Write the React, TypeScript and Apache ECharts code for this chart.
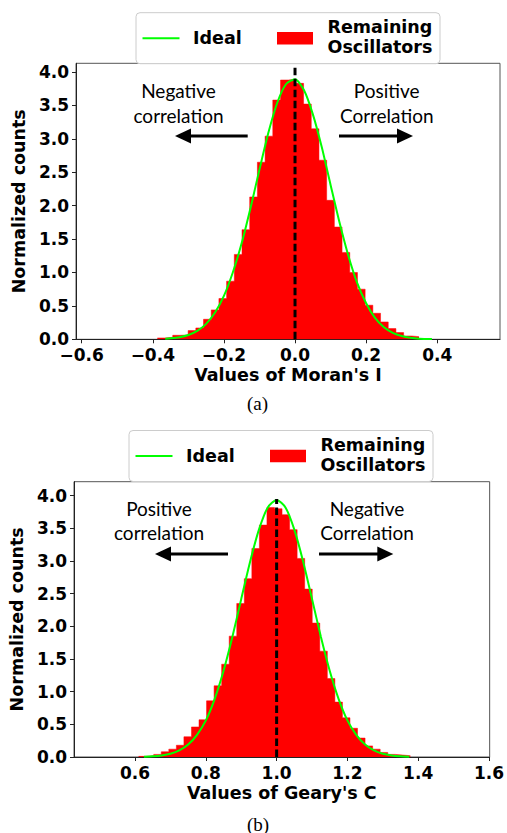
import React, { useEffect, useRef } from "react";
import * as echarts from "echarts";

// ---------- data ----------
const moranBinStart = -0.3872;
const moranBinWidth = 0.021645;
const moranCounts = [
  0.02, 0.03, 0.06, 0.065, 0.13, 0.17, 0.3, 0.44, 0.61, 0.87, 1.27, 1.64,
  2.13, 2.65, 3.04, 3.58, 3.88, 3.89, 3.83, 3.52, 3.15, 2.68, 2.08, 1.68,
  1.3, 1.0, 0.75, 0.51, 0.39, 0.26, 0.16, 0.1, 0.05, 0.04,
];
const moranIdealX = [
  -0.365, -0.35, -0.325, -0.3, -0.275, -0.25, -0.225, -0.2, -0.175, -0.15,
  -0.125, -0.1, -0.075, -0.05, -0.025, 0, 0.025, 0.05, 0.075, 0.1, 0.125,
  0.15, 0.175, 0.2, 0.225, 0.25, 0.275, 0.3, 0.325, 0.35, 0.385,
];
const moranIdealY = [
  0.009, 0.014, 0.031, 0.064, 0.125, 0.23, 0.4, 0.65, 1.0, 1.44, 1.97, 2.54,
  3.09, 3.54, 3.82, 3.89, 3.73, 3.37, 2.88, 2.31, 1.75, 1.25, 0.84, 0.54,
  0.32, 0.18, 0.097, 0.049, 0.023, 0.01, 0.003,
];
const moranRefX = 0;
const moranRefTop = 4.1;

const gearyBinStart = 0.61;
const gearyBinWidth = 0.02133;
const gearyCounts = [
  0.01, 0.02, 0.04, 0.08, 0.12, 0.18, 0.31, 0.46, 0.57, 0.86, 1.09, 1.42,
  1.85, 2.35, 2.73, 3.19, 3.55, 3.82, 3.8, 3.71, 3.48, 3.04, 2.57, 2.05,
  1.62, 1.2, 0.84, 0.6, 0.44, 0.29, 0.17, 0.12, 0.07, 0.04, 0.03, 0.02,
];
const gearyIdealX = [
  0.625, 0.65, 0.675, 0.7, 0.725, 0.75, 0.775, 0.8, 0.825, 0.85, 0.875, 0.9,
  0.925, 0.95, 0.975, 1.0, 1.025, 1.05, 1.075, 1.1, 1.125, 1.15, 1.175, 1.2,
  1.225, 1.25, 1.275, 1.3, 1.325, 1.35, 1.375,
];
const gearyIdealY = [
  0.004, 0.01, 0.023, 0.049, 0.1, 0.19, 0.34, 0.56, 0.89, 1.32, 1.84, 2.42,
  2.99, 3.48, 3.82, 3.935, 3.82, 3.48, 2.99, 2.42, 1.84, 1.32, 0.89, 0.56,
  0.34, 0.19, 0.1, 0.049, 0.023, 0.01, 0.004,
];
const gearyRefX = 1.0;
const gearyRefTop = 3.95;

const moranTicks = [-0.6, -0.4, -0.2, 0, 0.2, 0.4];
const gearyTicks = [0.6, 0.8, 1.0, 1.2, 1.4, 1.6];
const countTicks = [0, 0.5, 1, 1.5, 2, 2.5, 3, 3.5, 4];

const legendIdeal = "Ideal";
const legendHist = "Remaining\nOscillators";

// ---------- helpers ----------
const FONT = '"DejaVu Sans", sans-serif';
const ANNOT_FONT = 'Lato, "Open Sans", sans-serif';
const SERIF = '"Liberation Serif", "DejaVu Serif", serif';
const fmt = (v: number) => {
  if (Math.abs(v) < 1e-9) return "0.0";
  return v.toFixed(1).replace("-", "\u2212");
};

// step outline of the histogram: left edge of each bin + closing right edge
const stepData = (start: number, w: number, counts: number[]) => {
  const pts = counts.map((h, i) => [start + i * w, h]);
  pts.push([start + counts.length * w, counts[counts.length - 1]]);
  return pts;
};

const histSeries = (idx: number, name: string, start: number, w: number, counts: number[]) => ({
  type: "line",
  name,
  xAxisIndex: idx,
  yAxisIndex: idx,
  step: "end",
  data: stepData(start, w, counts),
  showSymbol: false,
  lineStyle: { color: "#ff0000", width: 0.5 },
  areaStyle: { color: "#ff0000", opacity: 1, origin: "start" },
  z: 2,
  silent: true,
});

const xAxisCfg = (
  grid: number,
  min: number,
  max: number,
  ticks: number[],
  name: string
) => ({
  type: "value",
  gridIndex: grid,
  min,
  max,
  splitLine: { show: false },
  axisLine: { show: true, onZero: false, lineStyle: { color: "#222", width: 1 } },
  axisTick: {
    show: true,
    inside: false,
    length: 4,
    customValues: ticks,
    lineStyle: { color: "#222", width: 1 },
  },
  axisLabel: {
    customValues: ticks,
    formatter: (v: number) => fmt(v),
    fontFamily: FONT,
    fontWeight: "bold",
    fontSize: 17,
    color: "#000",
    margin: 7,
  },
  name,
  nameLocation: "middle",
  nameGap: 27,
  nameTextStyle: { fontFamily: FONT, fontWeight: "bold", fontSize: 17.5, color: "#000" },
});

const yAxisCfg = (grid: number, max: number) => ({
  type: "value",
  gridIndex: grid,
  min: 0,
  max,
  splitLine: { show: false },
  axisLine: { show: true, onZero: false, lineStyle: { color: "#222", width: 1 } },
  axisTick: {
    show: true,
    inside: false,
    length: 4,
    customValues: countTicks,
    lineStyle: { color: "#222", width: 1 },
  },
  axisLabel: {
    customValues: countTicks,
    formatter: (v: number) => fmt(v),
    fontFamily: FONT,
    fontWeight: "bold",
    fontSize: 17,
    color: "#000",
    margin: 7,
  },
  name: "Normalized counts",
  nameLocation: "middle",
  nameRotate: 90,
  nameGap: 42,
  nameTextStyle: { fontFamily: FONT, fontWeight: "bold", fontSize: 17.5, color: "#000" },
});

const legendGraphic = (x: number, y: number) => {
  const w = 304;
  const h = 51;
  const mid = y + h / 2;
  return [
    {
      type: "rect",
      shape: { x, y, width: w, height: h, r: 4 },
      style: { fill: "#ffffff", stroke: "#cccccc", lineWidth: 1 },
      z: 20,
    },
    {
      type: "line",
      shape: { x1: x + 6.5, y1: mid, x2: x + 43.5, y2: mid },
      style: { stroke: "#00ff00", lineWidth: 2 },
      z: 21,
    },
    {
      type: "text",
      style: {
        text: legendIdeal,
        x: x + 57,
        y: mid,
        fill: "#000",
        font: `bold 17.5px ${FONT}`,
        align: "left",
        verticalAlign: "middle",
      },
      z: 21,
    },
    {
      type: "rect",
      shape: { x: x + 141, y: mid - 6.2, width: 36, height: 12.4 },
      style: { fill: "#ff0000" },
      z: 21,
    },
    {
      type: "text",
      style: {
        text: legendHist,
        x: x + 191.5,
        y: mid - 1.3,
        fill: "#000",
        font: `bold 17.5px ${FONT}`,
        lineHeight: 19.8,
        align: "left",
        verticalAlign: "middle",
      },
      z: 21,
    },
  ];
};

const annot = (text: string, x: number, y: number) => ({
  type: "text",
  style: {
    text,
    x,
    y,
    fill: "#000",
    font: `19px ${ANNOT_FONT}`,
    lineHeight: 24.4,
    align: "center",
    verticalAlign: "middle",
  },
  z: 10,
});

const arrow = (tail: number, tip: number, y: number) => {
  const dir = tip > tail ? 1 : -1;
  const base = tip - dir * 16;
  return [
    {
      type: "line",
      shape: { x1: tail, y1: y, x2: base + dir * 1, y2: y },
      style: { stroke: "#000", lineWidth: 3 },
      z: 10,
    },
    {
      type: "polygon",
      shape: { points: [[tip, y], [base, y - 7.5], [base, y + 7.5]] },
      style: { fill: "#000" },
      z: 10,
    },
  ];
};

export default function App() {
  const ref = useRef<HTMLDivElement>(null);

  useEffect(() => {
    if (!ref.current) return;
    const chart = echarts.init(ref.current, undefined, { renderer: "svg" });

    const option: any = {
      animation: false,
      backgroundColor: "#ffffff",
      grid: [
        {
          left: 76,
          top: 63.3,
          width: 424,
          height: 276,
          show: true,
          borderColor: "#555",
          borderWidth: 1,
          backgroundColor: "transparent",
        },
        {
          left: 68.3,
          top: 481.7,
          width: 424.4,
          height: 275.3,
          show: true,
          borderColor: "#555",
          borderWidth: 1,
          backgroundColor: "transparent",
        },
      ],
      xAxis: [
        xAxisCfg(0, -0.616, 0.5765, moranTicks, "Values of Moran's I"),
        xAxisCfg(1, 0.4274, 1.602, gearyTicks, "Values of Geary's C"),
      ],
      yAxis: [yAxisCfg(0, 4.13), yAxisCfg(1, 4.214)],
      series: [
        histSeries(0, "Remaining Oscillators (Moran)", moranBinStart, moranBinWidth, moranCounts),
        {
          type: "line",
          name: "Ideal (Moran)",
          xAxisIndex: 0,
          yAxisIndex: 0,
          data: moranIdealX.map((x, i) => [x, moranIdealY[i]]),
          showSymbol: false,
          smooth: 0.25,
          lineStyle: { color: "#00ff00", width: 2 },
          z: 3,
          silent: true,
        },
        {
          type: "line",
          name: "ref (Moran)",
          xAxisIndex: 0,
          yAxisIndex: 0,
          data: [
            [moranRefX, 0],
            [moranRefX, moranRefTop],
          ],
          showSymbol: false,
          lineStyle: { color: "#000", width: 3, type: [7.5, 3.5] },
          z: 4,
          silent: true,
        },
        histSeries(1, "Remaining Oscillators (Geary)", gearyBinStart, gearyBinWidth, gearyCounts),
        {
          type: "line",
          name: "Ideal (Geary)",
          xAxisIndex: 1,
          yAxisIndex: 1,
          data: gearyIdealX.map((x, i) => [x, gearyIdealY[i]]),
          showSymbol: false,
          smooth: 0.25,
          lineStyle: { color: "#00ff00", width: 2 },
          z: 3,
          silent: true,
        },
        {
          type: "line",
          name: "ref (Geary)",
          xAxisIndex: 1,
          yAxisIndex: 1,
          data: [
            [gearyRefX, 0],
            [gearyRefX, gearyRefTop],
          ],
          showSymbol: false,
          lineStyle: { color: "#000", width: 3, type: [7.5, 3.5] },
          z: 4,
          silent: true,
        },
      ],
      graphic: [
        ...legendGraphic(136, 12.7),
        ...legendGraphic(129, 430.5),
        annot("Negative\ncorrelation", 178.5, 103),
        annot("Positive\nCorrelation", 386.7, 103),
        annot("Positive\ncorrelation", 159, 520.5),
        annot("Negative\nCorrelation", 367, 520.5),
        ...arrow(247.7, 175, 136),
        ...arrow(339, 413, 136),
        ...arrow(228, 155, 554),
        ...arrow(319, 393.3, 554),
        {
          type: "text",
          style: {
            text: "(a)",
            x: 257.5,
            y: 403.5,
            fill: "#000",
            font: `19px ${SERIF}`,
            align: "center",
            verticalAlign: "middle",
          },
        },
        {
          type: "text",
          style: {
            text: "(b)",
            x: 258,
            y: 824,
            fill: "#000",
            font: `19px ${SERIF}`,
            align: "center",
            verticalAlign: "middle",
          },
        },
      ],
    };

    chart.setOption(option);
    return () => chart.dispose();
  }, []);

  return (
    <div
      ref={ref}
      style={{ position: "absolute", left: 0, top: 0, width: 507, height: 833 }}
    />
  );
}
